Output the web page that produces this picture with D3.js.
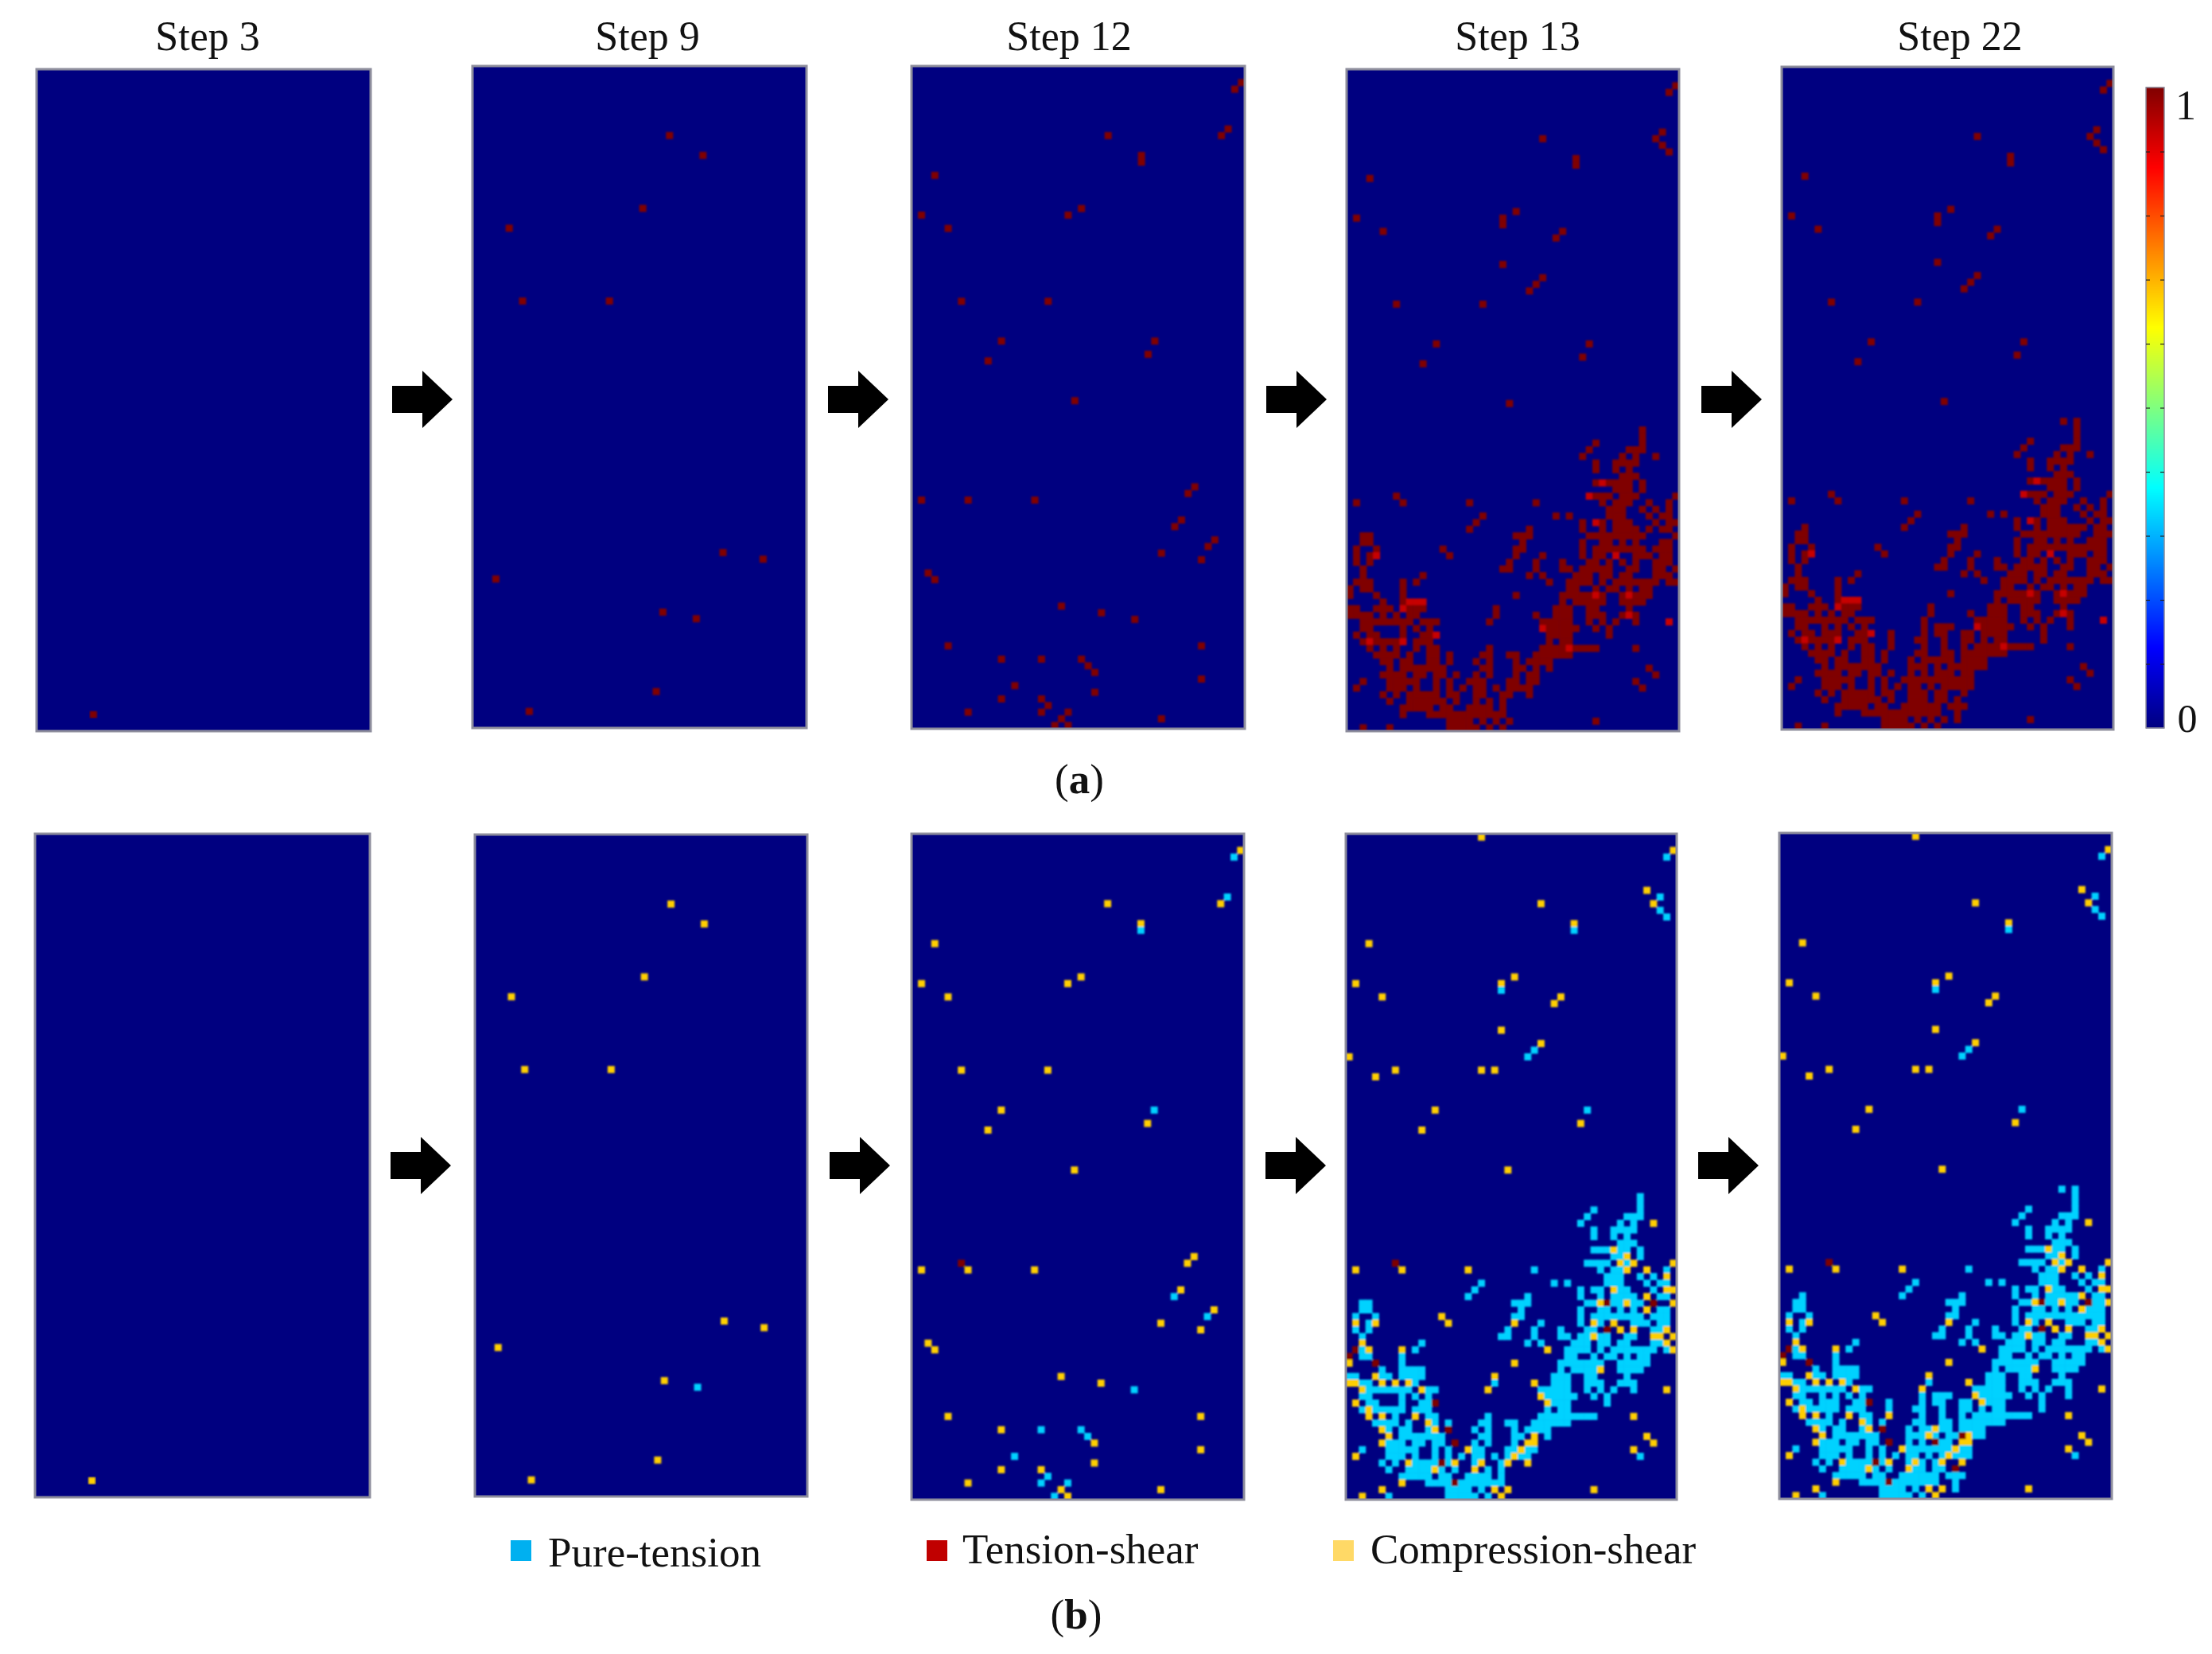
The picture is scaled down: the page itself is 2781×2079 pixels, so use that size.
<!DOCTYPE html>
<html>
<head>
<meta charset="utf-8">
<title>Damage evolution</title>
<script src="https://cdn.jsdelivr.net/npm/d3@7"></script>
<style>
    html, body { margin: 0; padding: 0; background: #fff; }
    svg { display: block; }
    text { font-family: "Liberation Serif", serif; fill: #111; }
</style>
</head>
<body>
<div id="chart"></div>
<script>
// chart values, all in grid cells [column, row] of a 50 x 100 mesh
const stepLabels = ["Step 3", "Step 9", "Step 12", "Step 13", "Step 22"];
const legendLabels = ["Pure-tension", "Tension-shear", "Compression-shear"];
const colorbarLabels = ["0", "1"];
const colorbarTicks = [0.1, 0.2, 0.3, 0.4, 0.5, 0.6, 0.7, 0.8, 0.9];
const jetStops = [0, 0.125, 0.375, 0.625, 0.875, 1];
const jetColors = ["#000080", "#0000ff", "#00ffff", "#ffff00", "#ff0000", "#800000"];

const step3Damage = [[8, 97]];
const step3Compression = [[8, 97]];

const step9Damage = [[29, 10], [34, 13], [25, 21], [5, 24], [7, 35], [20, 35], [37, 73], [43, 74], [3, 77],
    [28, 82], [33, 83], [27, 94], [8, 97]];
const step9Compression = [[29, 10], [34, 13], [25, 21], [5, 24], [7, 35], [20, 35], [37, 73], [43, 74], [3, 77],
    [28, 82], [27, 94], [8, 97]];

const step12Damage = [[49, 2], [48, 3], [47, 9], [46, 10], [29, 10], [34, 13], [34, 14], [3, 16], [1, 22], [5, 24],
    [23, 22], [25, 21], [7, 35], [20, 35], [13, 41], [11, 44], [36, 41], [35, 43], [24, 50], [1, 65], [8, 65], [18, 65],
    [42, 63], [41, 64], [40, 68], [39, 69], [45, 71], [44, 72], [37, 73], [43, 74], [2, 76], [3, 77], [22, 81], [28, 82],
    [33, 83], [5, 87], [43, 87], [13, 89], [19, 89], [25, 89], [26, 90], [27, 91], [43, 92], [15, 93], [27, 94], [13, 95],
    [19, 95], [20, 96], [19, 97], [8, 97], [23, 97], [22, 98], [37, 98], [21, 99], [23, 99]];
const step12Compression = [[49, 2], [46, 10], [29, 10], [34, 13], [3, 16], [1, 22], [5, 24], [23, 22], [25, 21], [7, 35],
    [20, 35], [13, 41], [11, 44], [35, 43], [24, 50], [1, 65], [8, 65], [18, 65], [42, 63], [41, 64], [40, 68], [45, 71],
    [37, 73], [43, 74], [2, 76], [3, 77], [22, 81], [28, 82], [5, 87], [43, 87], [13, 89], [27, 91], [43, 92], [27, 94],
    [13, 95], [19, 95], [8, 97], [22, 98], [37, 98], [23, 99]];
const step12Shear = [[7, 64]];

// "row: column spans" of the damaged cells
const step13Damage = [
    "2: 49", "3: 48", "9: 47", "10: 29 46", "11: 47", "12: 48", "13: 34", "14: 34", "16: 3", "21: 25", "22: 1 23", "23: 23",
    "24: 5 32", "25: 31", "29: 23", "31: 29", "32: 28", "33: 27", "35: 7 20", "41: 13 36", "43: 35", "44: 11",
    "50: 24", "54: 44", "55: 44", "56: 37 44", "57: 36 42-44", "58: 35 41 43 46", "59: 37 40-43", "60: 37 40 42",
    "61: 41-43", "62: 37-39 40-42 44", "63: 40-42 44", "64: 7 36-39 41-43 49", "65: 1 8 18 28 38 40-42 45 48",
    "66: 39-41 44 46 48", "67: 20 31 33 39-41 45 47-48", "68: 19 35 37-38 40-42 46 48-49",
    "69: 18 27 35 38 40-43 45 47-48", "70: 2-3 25-27 36-44 49", "71: 2-3 26 35 38-39 41 43 47-48",
    "72: 1 4 14 25-26 35 37-44 46-48", "73: 1 3-4 15 25 29 35 37-38 40 43-45 47-48",
    "74: 1 3 24 28 32 36-37 39 41 43 46-48", "75: 2 23-24 28 32-33 35-39 42-43 46-47 49",
    "76: 2 11 27 29 34-36 38-39 41-42 46-48", "77: 1-3 8 10 30 33-36 38 40-42 43-46 48-49",
    "78: 0 2-3 8 33-34 37 39-40 42 44-45", "79: 0 4 8 25 32-38 41-45", "80: 5 8-11 32 34-38 41-44",
    "81: 0-1 4-6 8-11 22 31-33 36-37 42", "82: 0-3 5 7 9-10 22 28 31-33 36-38 41-43",
    "83: 2-9 11-13 21 29-33 36 38 40 43 48", "84: 2-3 8 10 12 29-33 34 37 39", "85: 1 3-4 8 11-13 30-33 39",
    "86: 2-8 10-12 30 32-33", "87: 3 5 7 10 12-13 21 29-37 43", "88: 4-7 9 12-13 15 20-21 24-25 28-33",
    "89: 5-6 8-9 12-13 15 19 21 25 27-30", "90: 6 8-14 20-21 25-26 28 30 45",
    "91: 5-8 10-11 13-14 16 19 21 25 27-28 46", "92: 2 6-10 13 15 18-20 24-25 27-28 43",
    "93: 1 6-8 10 13 15 17 19-20 22 24-27 44", "94: 5 7 9-13 15-16 19-20 23-24 27", "95: 6 9-14 16 19 21 23",
    "96: 8-12 14-15 18-21 23", "97: 8 12-23", "98: 15-18 20 22 24 37", "99: 2 6 15-19 21 23"
];
const step13Compression = [[20, 0], [49, 2], [45, 8], [46, 10], [29, 10], [34, 13], [3, 16], [25, 21], [23, 22], [1, 22],
    [5, 24], [32, 24], [31, 25], [23, 29], [29, 31], [0, 33], [7, 35], [20, 35], [22, 35], [4, 36], [13, 41], [35, 43], [11, 44],
    [24, 50], [46, 58], [40, 62], [42, 63], [41, 64], [43, 64], [49, 64], [42, 65], [45, 65], [1, 65], [8, 65], [18, 65],
    [48, 66], [40, 68], [48, 68], [49, 68], [45, 69], [38, 70], [42, 70], [49, 70], [45, 71], [14, 72], [15, 73], [37, 73],
    [40, 73], [1, 73], [4, 73], [25, 73], [41, 74], [43, 74], [48, 74], [37, 75], [46, 75], [47, 75], [49, 75], [2, 76],
    [48, 76], [3, 77], [8, 77], [30, 77], [49, 77], [0, 79], [25, 79], [38, 80], [22, 81], [4, 81], [0, 82], [1, 82], [5, 82],
    [7, 82], [9, 82], [28, 82], [2, 83], [11, 83], [21, 83], [48, 83], [29, 84], [1, 85], [30, 85], [3, 86], [3, 87], [5, 87],
    [10, 87], [43, 87], [12, 88], [13, 89], [5, 89], [6, 90], [28, 90], [45, 90], [5, 91], [27, 91], [28, 91], [46, 91],
    [18, 92], [26, 92], [43, 92], [1, 93], [25, 93], [9, 94], [16, 94], [20, 94], [24, 94], [27, 94], [13, 95], [19, 95],
    [8, 97], [5, 98], [22, 98], [24, 98], [37, 98], [2, 99], [23, 99]];
const step13Shear = [[7, 64], [39, 70], [46, 70], [39, 74], [1, 77], [0, 78], [4, 79], [13, 85], [15, 89], [16, 91], [14, 94], [16, 97]];
const step13Hot = [[38, 62], [36, 64], [37, 68], [40, 73], [4, 73], [37, 79], [42, 79], [42, 82], [29, 84], [33, 87], [3, 86],
    [8, 86], [8, 81], [9, 80], [10, 80], [11, 80], [13, 85], [48, 83]];

// what step 22 adds on top of step 13
const step22AddedDamage = [
    "53: 42 44", "69: 3 44", "70: 47-48", "71: 46", "72: 45", "84: 6 21 23-25 43", "85: 6-7 16 21 23-24 27-28",
    "86: 16 20-21 24 27-28 39", "87: 16 24 27", "88: 27", "89: 22-24", "90: 19 23 27 29", "91: 23-24",
    "92: 21-23 26", "93: 28", "94: 21", "95: 20 24 26", "96: 22 25-27", "97: 26", "98: 26"
];
const step22AddedCompression = [[16, 87], [23, 89], [22, 90]];
const step22AddedShear = [[27, 90], [23, 91], [26, 95]];

const legendColors = ["#00b0f0", "#c00000", "#ffd966"];
const cellColors = { tension: "#00d2ff", shear: "#7d0000", compression: "#ffcf00" };

// layout in page pixels: x, y, width, height
const boxesA = [[46, 87, 420, 832], [594, 83, 420, 832], [1146, 83, 419, 833], [1693, 87, 418, 832], [2240, 84, 417, 833]];
const boxesB = [[44, 1048, 421, 834], [597, 1049, 418, 832], [1146, 1048, 418, 837], [1692, 1048, 416, 837], [2237, 1047, 418, 837]];
const titleX = [261, 814, 1344, 1908, 2464];
const arrowsA = [[493, 502], [1041, 502], [1592, 502], [2139, 502]];
const arrowsB = [[491, 1465], [1043, 1465], [1591, 1465], [2135, 1465]];
const legendX = [[642, 689, 1969], [1165, 1210, 1965], [1676, 1723, 1965]];

function expandRows(rows) {
    // turn "62: 37-39 44" into [[37,62],[38,62],[39,62],[44,62]]
    var cells = [];
    rows.forEach(function (line) {
        var parts = line.split(":");
        var row = +parts[0];
        parts[1].trim().split(" ").forEach(function (span) {
            var ends = span.split("-").map(Number);
            var last = ends.length > 1 ? ends[1] : ends[0];
            for (var c = ends[0]; c <= last; c++) {
                cells.push([c, row]);
            }
        });
    });
    return cells;
}

function keyOf(d) { return d[0] + "," + d[1]; }

window.onload = function () {

    const width = 2781, height = 2079;

    var svg = d3.select("#chart").append("svg")
        .attr("width", width)
        .attr("height", height);

    var defs = svg.append("defs");

    // the source is a blurry bitmap, soften the cells the same way
    defs.append("filter")
        .attr("id", "soft")
        .attr("x", "-2%").attr("y", "-2%").attr("width", "104%").attr("height", "104%")
        .append("feGaussianBlur")
        .attr("stdDeviation", 1.3);

    var jet = d3.scaleLinear().domain(jetStops).range(jetColors);

    const step13Cells = expandRows(step13Damage);
    const step22Cells = step13Cells.concat(expandRows(step22AddedDamage));

    const damageSets = [step3Damage, step9Damage, step12Damage, step13Cells, step22Cells];
    const hotSets = [[], [], [], step13Hot, step13Hot];
    const compressionSets = [step3Compression, step9Compression, step12Compression, step13Compression,
        step13Compression.concat(step22AddedCompression)];
    const shearSets = [[], [], step12Shear, step13Shear, step13Shear.concat(step22AddedShear)];

    function drawPanel(box, index, cells) {
        var x = d3.scaleBand().domain(d3.range(50)).range([box[0], box[0] + box[2]]);
        var y = d3.scaleBand().domain(d3.range(100)).range([box[1], box[1] + box[3]]);

        var clipId = "clip" + box[0] + "-" + box[1];
        defs.append("clipPath").attr("id", clipId)
            .append("rect")
            .attr("x", box[0]).attr("y", box[1])
            .attr("width", box[2]).attr("height", box[3]);

        var g = svg.append("g").attr("clip-path", "url(#" + clipId + ")");

        g.append("rect")
            .attr("x", box[0]).attr("y", box[1])
            .attr("width", box[2]).attr("height", box[3])
            .attr("fill", jet(0));

        g.append("g")
            .attr("filter", "url(#soft)")
            .selectAll("rect")
            .data(cells)
            .join("rect")
            .attr("x", function (d) { return x(d.col) - 0.3; })
            .attr("y", function (d) { return y(d.row) - 0.3; })
            .attr("width", x.bandwidth() + 0.6)
            .attr("height", y.bandwidth() + 0.6)
            .attr("fill", function (d) { return d.color; });

        svg.append("rect")
            .attr("x", box[0]).attr("y", box[1])
            .attr("width", box[2]).attr("height", box[3])
            .attr("fill", "none")
            .attr("stroke", "#8d8d9c")
            .attr("stroke-width", 3);
    }

    stepLabels.forEach(function (label, i) {
        var hot = new Set(hotSets[i].map(keyOf));
        var cellsA = damageSets[i].map(function (d) {
            return { col: d[0], row: d[1], color: hot.has(keyOf(d)) ? jet(0.93) : jet(1) };
        });
        drawPanel(boxesA[i], i, cellsA);

        var compression = new Set(compressionSets[i].map(keyOf));
        var shear = new Set(shearSets[i].map(keyOf));
        var seen = new Map();
        damageSets[i].forEach(function (d) { seen.set(keyOf(d), d); });
        compressionSets[i].forEach(function (d) { seen.set(keyOf(d), d); });
        shearSets[i].forEach(function (d) { seen.set(keyOf(d), d); });

        var cellsB = Array.from(seen.values()).map(function (d) {
            var k = keyOf(d);
            var color = cellColors.tension;
            if (compression.has(k)) { color = cellColors.compression; }
            if (shear.has(k)) { color = cellColors.shear; }
            return { col: d[0], row: d[1], color: color };
        });
        drawPanel(boxesB[i], i, cellsB);

        svg.append("text")
            .attr("x", titleX[i])
            .attr("y", 63)
            .attr("text-anchor", "middle")
            .attr("font-size", 52)
            .text(label);
    });

    // block arrows between the panels
    function drawArrow(pos) {
        var p = d3.path();
        p.moveTo(pos[0], pos[1] - 17);
        p.lineTo(pos[0] + 38, pos[1] - 17);
        p.lineTo(pos[0] + 38, pos[1] - 36);
        p.lineTo(pos[0] + 76, pos[1]);
        p.lineTo(pos[0] + 38, pos[1] + 36);
        p.lineTo(pos[0] + 38, pos[1] + 17);
        p.lineTo(pos[0], pos[1] + 17);
        p.closePath();
        svg.append("path").attr("d", p.toString()).attr("fill", "#000");
    }
    arrowsA.forEach(drawArrow);
    arrowsB.forEach(drawArrow);

    // colorbar, one pixel strip per scale step
    var barLeft = 2698, barRight = 2721;
    var barScale = d3.scaleLinear().domain([0, 1]).range([915, 110]);

    svg.append("g")
        .selectAll("rect")
        .data(d3.range(0, 805).map(function (i) { return i / 805; }))
        .join("rect")
        .attr("x", barLeft)
        .attr("width", barRight - barLeft)
        .attr("y", function (d) { return barScale(d) - 1.5; })
        .attr("height", 2)
        .attr("fill", function (d) { return jet(d); });

    svg.append("rect")
        .attr("x", barLeft).attr("y", barScale(1))
        .attr("width", barRight - barLeft).attr("height", barScale(0) - barScale(1))
        .attr("fill", "none")
        .attr("stroke", "#8d8d9c")
        .attr("stroke-width", 1.5);

    var leftTicks = d3.axisRight(barScale).tickValues(colorbarTicks).tickSize(5).tickFormat("");
    var rightTicks = d3.axisLeft(barScale).tickValues(colorbarTicks).tickSize(5).tickFormat("");
    [[leftTicks, barLeft], [rightTicks, barRight]].forEach(function (a) {
        var g = svg.append("g")
            .attr("transform", "translate(" + a[1] + ",0)")
            .call(a[0]);
        g.select(".domain").remove();
        g.selectAll("line").attr("stroke", "#222").attr("stroke-width", 1.2);
    });

    svg.append("text")
        .attr("x", 2750).attr("y", 920)
        .attr("text-anchor", "middle").attr("font-size", 50)
        .text(colorbarLabels[0]);
    svg.append("text")
        .attr("x", 2748).attr("y", 150)
        .attr("text-anchor", "middle").attr("font-size", 52)
        .text(colorbarLabels[1]);

    // legend
    legendLabels.forEach(function (label, i) {
        var pos = legendX[i];
        svg.append("rect")
            .attr("x", pos[0]).attr("y", 1936)
            .attr("width", 26).attr("height", 26)
            .attr("fill", legendColors[i]);
        svg.append("text")
            .attr("x", pos[1]).attr("y", pos[2])
            .attr("font-size", 53)
            .text(label);
    });

    // sub figure captions, only the letter is bold
    function caption(x, y, letter) {
        var t = svg.append("text")
            .attr("x", x).attr("y", y)
            .attr("text-anchor", "middle").attr("font-size", 53);
        t.append("tspan").text("(");
        t.append("tspan").attr("font-weight", "bold").text(letter);
        t.append("tspan").text(")");
    }
    caption(1357, 997, "a");
    caption(1353, 2047, "b");
};
</script>
</body>
</html>
